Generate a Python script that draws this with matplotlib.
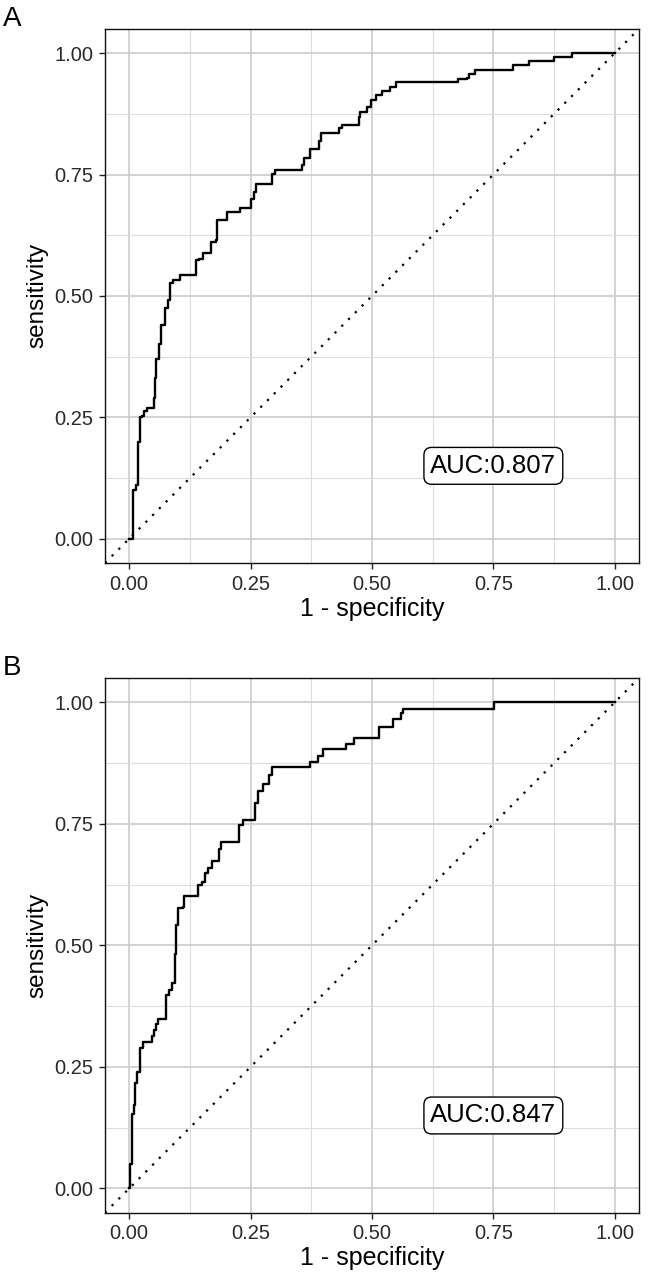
import matplotlib
matplotlib.use("Agg")
import matplotlib.pyplot as plt
import numpy as np

plt.rcParams['font.family'] = ['Liberation Sans', 'DejaVu Sans']

# ROC curve vertices (1 - specificity, sensitivity)
fpr_a = [0.000, 0.004, 0.008, 0.013, 0.018, 0.022, 0.027, 0.030, 0.037, 0.047,
         0.050, 0.053, 0.056, 0.061, 0.065, 0.071, 0.074, 0.079, 0.083, 0.090,
         0.090, 0.105, 0.105, 0.130, 0.137, 0.144, 0.151, 0.164, 0.168, 0.178,
         0.181, 0.199, 0.201, 0.226, 0.228, 0.247, 0.250, 0.257, 0.262, 0.291,
         0.295, 0.301, 0.351, 0.356, 0.360, 0.372, 0.373, 0.387, 0.390, 0.394,
         0.428, 0.432, 0.439, 0.466, 0.473, 0.476, 0.487, 0.490, 0.497, 0.509,
         0.521, 0.537, 0.550, 0.675, 0.677, 0.696, 0.699, 0.711, 0.713, 0.788,
         0.790, 0.821, 0.823, 0.871, 0.874, 0.908, 0.912, 1.000]
tpr_a = [0.000, 0.000, 0.100, 0.110, 0.200, 0.250, 0.252, 0.262, 0.269, 0.269,
         0.290, 0.330, 0.370, 0.400, 0.440, 0.440, 0.475, 0.492, 0.526, 0.526,
         0.533, 0.533, 0.543, 0.543, 0.574, 0.577, 0.588, 0.588, 0.611, 0.615,
         0.656, 0.656, 0.672, 0.672, 0.682, 0.682, 0.700, 0.714, 0.731, 0.731,
         0.751, 0.759, 0.759, 0.769, 0.785, 0.785, 0.803, 0.803, 0.820, 0.835,
         0.835, 0.845, 0.853, 0.853, 0.868, 0.879, 0.879, 0.889, 0.903, 0.913,
         0.922, 0.930, 0.940, 0.940, 0.947, 0.949, 0.958, 0.958, 0.966, 0.966,
         0.975, 0.975, 0.984, 0.984, 0.992, 0.992, 1.000, 1.000]

fpr_b = [0.000, 0.001, 0.005, 0.009, 0.012, 0.016, 0.022, 0.023, 0.029, 0.043,
         0.047, 0.051, 0.056, 0.060, 0.072, 0.075, 0.081, 0.088, 0.093, 0.095,
         0.097, 0.101, 0.110, 0.113, 0.138, 0.141, 0.150, 0.156, 0.163, 0.170,
         0.181, 0.184, 0.189, 0.222, 0.227, 0.235, 0.254, 0.259, 0.266, 0.275,
         0.283, 0.288, 0.295, 0.369, 0.372, 0.385, 0.389, 0.399, 0.442, 0.446,
         0.460, 0.462, 0.511, 0.515, 0.540, 0.543, 0.556, 0.559, 0.563, 0.750,
         0.751, 1.000]
tpr_b = [0.000, 0.051, 0.154, 0.171, 0.216, 0.240, 0.240, 0.288, 0.301, 0.301,
         0.313, 0.325, 0.339, 0.349, 0.349, 0.397, 0.409, 0.422, 0.422, 0.483,
         0.542, 0.576, 0.579, 0.601, 0.601, 0.625, 0.631, 0.648, 0.660, 0.673,
         0.673, 0.699, 0.712, 0.712, 0.747, 0.757, 0.757, 0.792, 0.817, 0.831,
         0.831, 0.851, 0.867, 0.867, 0.877, 0.877, 0.890, 0.903, 0.903, 0.915,
         0.915, 0.927, 0.927, 0.950, 0.950, 0.965, 0.965, 0.977, 0.987, 0.987,
         1.000, 1.000]

auc_labels = ["AUC:0.807", "AUC:0.847"]
panel_letters = ["A", "B"]
ticks = [0.0, 0.25, 0.5, 0.75, 1.0]
tick_labels = ["0.00", "0.25", "0.50", "0.75", "1.00"]
minor_ticks = [0.125, 0.375, 0.625, 0.875]

fig = plt.figure(figsize=(6.48, 12.8), dpi=100)
ax_a = fig.add_axes([0.162, 0.5602, 0.8241, 0.4172])
ax_b = fig.add_axes([0.162, 0.0526, 0.8241, 0.4177])

curves = [(fpr_a, tpr_a), (fpr_b, tpr_b)]
for ax, (fpr, tpr), lab in zip([ax_a, ax_b], curves, auc_labels):
    ax.set_xlim(-0.05, 1.05)
    ax.set_ylim(-0.05, 1.05)
    ax.set_xticks(ticks)
    ax.set_xticklabels(tick_labels)
    ax.set_yticks(ticks)
    ax.set_yticklabels(tick_labels)
    ax.set_xticks(minor_ticks, minor=True)
    ax.set_yticks(minor_ticks, minor=True)
    ax.grid(which='major', color='#CCCCCC', lw=1.2)
    ax.grid(which='minor', color='#DDDDDD', lw=0.8)
    ax.set_axisbelow(True)
    ax.tick_params(which='minor', length=0)
    ax.tick_params(which='major', length=4.5, width=1.0, color='#222222',
                   labelsize=14.5, labelcolor='#2a2a2a', pad=4)
    for s in ax.spines.values():
        s.set_linewidth(1.0)
        s.set_color('#111111')

    ax.axline((0, 0), slope=1, color='black', lw=1.6, dashes=(1, 3.3))
    ax.plot(fpr, tpr, color='black', lw=1.7, drawstyle='steps-post')

    ax.text(0.75, 0.15, lab, ha='center', va='center', fontsize=18.5,
            bbox=dict(boxstyle='round,pad=0.25,rounding_size=0.3',
                      fc='white', ec='black', lw=1.0))
    ax.set_xlabel("1 - specificity", fontsize=18, va='top')
    ax.xaxis.set_label_coords(0.5, -0.063)
    ax.set_ylabel("sensitivity", fontsize=17.5)
    ax.yaxis.set_label_coords(-0.106, 0.5)

fig.text(0.004, 0.9797, panel_letters[0], fontsize=20, ha='left', va='baseline')
fig.text(0.004, 0.4727, panel_letters[1], fontsize=20, ha='left', va='baseline')

fig.savefig("out.png", dpi=100)
